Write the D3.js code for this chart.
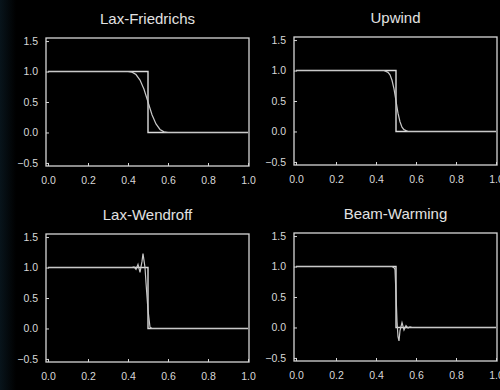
<!DOCTYPE html>
<html lang="en">

<head>
    <meta charset="UTF-8">
    <title>advection schemes</title>
    <script src="https://cdn.jsdelivr.net/npm/d3@7"></script>
    <style>
        html, body { margin: 0; padding: 0; background: #000; }
        #chart { width: 500px; height: 390px; }
        .frame { fill: none; stroke: #d6d6d6; stroke-width: 1.3; }
        .tickText { fill: #d8d8d8; font-family: "Liberation Sans", Arial, sans-serif; font-size: 10.5px; }
        .title { fill: #e2e2e2; font-family: "Liberation Sans", Arial, sans-serif; font-size: 15px; }
        .exact { fill: none; stroke: #dcdcdc; stroke-width: 1.4; }
        .numeric { fill: none; stroke: #c8c8c8; stroke-width: 1.2; }
    </style>
</head>

<body>
    <div id="chart"></div>
</body>

<script>
    // tick labels
    const xTicks = [0, 0.2, 0.4, 0.6, 0.8, 1.0];
    const yTicks = [-0.5, 0, 0.5, 1.0, 1.5];

    // exact solution: step at x = 0.5
    const exactX = [0, 0.5, 0.5, 1];
    const exactY = [1, 1, 0, 0];

    // numerical solutions
    const lfX = [0, 0.40, 0.42, 0.44, 0.46, 0.48, 0.50, 0.52, 0.54, 0.56, 0.58, 0.60, 1];
    const lfY = [1, 1.00, 0.99, 0.95, 0.86, 0.71, 0.50, 0.29, 0.14, 0.05, 0.01, 0.00, 0];

    const upX = [0, 0.44, 0.46, 0.47, 0.48, 0.49, 0.50, 0.51, 0.52, 0.53, 0.54, 0.56, 1];
    const upY = [1, 1.00, 0.97, 0.93, 0.84, 0.70, 0.50, 0.30, 0.16, 0.07, 0.03, 0.00, 0];

    const lwX = [0, 0.42, 0.43, 0.44, 0.45, 0.46, 0.47, 0.475, 0.485, 0.49, 0.50, 0.51, 0.52, 1];
    const lwY = [1, 1.00, 1.01, 0.97, 1.05, 0.92, 1.10, 1.23, 1.00, 0.75, 0.30, 0.02, 0.00, 0];

    const bwX = [0, 0.48, 0.49, 0.495, 0.50, 0.505, 0.51, 0.515, 0.52, 0.53, 0.54, 0.55, 0.56, 0.57, 0.58, 1];
    const bwY = [1, 1.00, 0.98, 0.95, 0.55, 0.10, -0.15, -0.22, -0.05, 0.08, -0.04, 0.03, -0.01, 0.01, 0.00, 0];

    const panels = [
        { title: "Lax-Friedrichs", xs: lfX, ys: lfY, left: 46, top: 38 },
        { title: "Upwind", xs: upX, ys: upY, left: 294, top: 37 },
        { title: "Lax-Wendroff", xs: lwX, ys: lwY, left: 46, top: 234 },
        { title: "Beam-Warming", xs: bwX, ys: bwY, left: 294, top: 233 }
    ];

    let draw = () => {
        let svg = d3.select("#chart").append("svg")
            .attr("class", "chart")
            .attr("width", 500)
            .attr("height", 390);

        // very faint bluish edge on the left like the photo
        let grad = svg.append("defs").append("linearGradient")
            .attr("id", "edge")
            .attr("x1", 0).attr("x2", 1).attr("y1", 0).attr("y2", 0);
        grad.append("stop").attr("offset", "0%").attr("stop-color", "#08141b");
        grad.append("stop").attr("offset", "100%").attr("stop-color", "#000");
        svg.append("rect").attr("width", 500).attr("height", 390).attr("fill", "#000");
        svg.append("rect").attr("width", 16).attr("height", 390).attr("fill", "url(#edge)");

        const w = 203, h = 128;

        panels.forEach(p => {
            let g = svg.append("g")
                .attr("transform", "translate(" + p.left + "," + p.top + ")");

            let x = d3.scaleLinear().domain([-0.01, 1.005]).range([0, w]);
            let y = d3.scaleLinear().domain([-0.55, 1.55]).range([h, 0]);

            // inward ticks, labels styled below
            let xAxis = d3.axisBottom(x).tickValues(xTicks).tickFormat(d3.format(".1f")).tickSize(-3).tickPadding(9);
            let yAxis = d3.axisLeft(y).tickValues(yTicks).tickFormat(d3.format(".1f")).tickSize(-3).tickPadding(8);

            g.append("g")
                .attr("class", "xaxis")
                .attr("transform", "translate(0," + h + ")")
                .call(xAxis);
            g.append("g")
                .attr("class", "yaxis")
                .call(yAxis);

            g.selectAll(".domain").remove();
            g.selectAll(".tick line").attr("stroke", "#d6d6d6").attr("stroke-width", 1);
            g.selectAll(".tick text").attr("class", "tickText").attr("fill", null);
            g.select(".xaxis").selectAll(".tick text").attr("dy", "0.85em");

            g.append("rect")
                .attr("class", "frame")
                .attr("width", w)
                .attr("height", h);

            let line = d3.line().x(d => x(d[0])).y(d => y(d[1]));

            g.append("path")
                .attr("class", "exact")
                .attr("d", line(d3.zip(exactX, exactY)));
            g.append("path")
                .attr("class", "numeric")
                .attr("d", line(d3.zip(p.xs, p.ys)));

            g.append("text")
                .attr("class", "title")
                .attr("x", w / 2)
                .attr("y", -14)
                .attr("text-anchor", "middle")
                .text(p.title);
        });
    }

    draw();
</script>

</html>
